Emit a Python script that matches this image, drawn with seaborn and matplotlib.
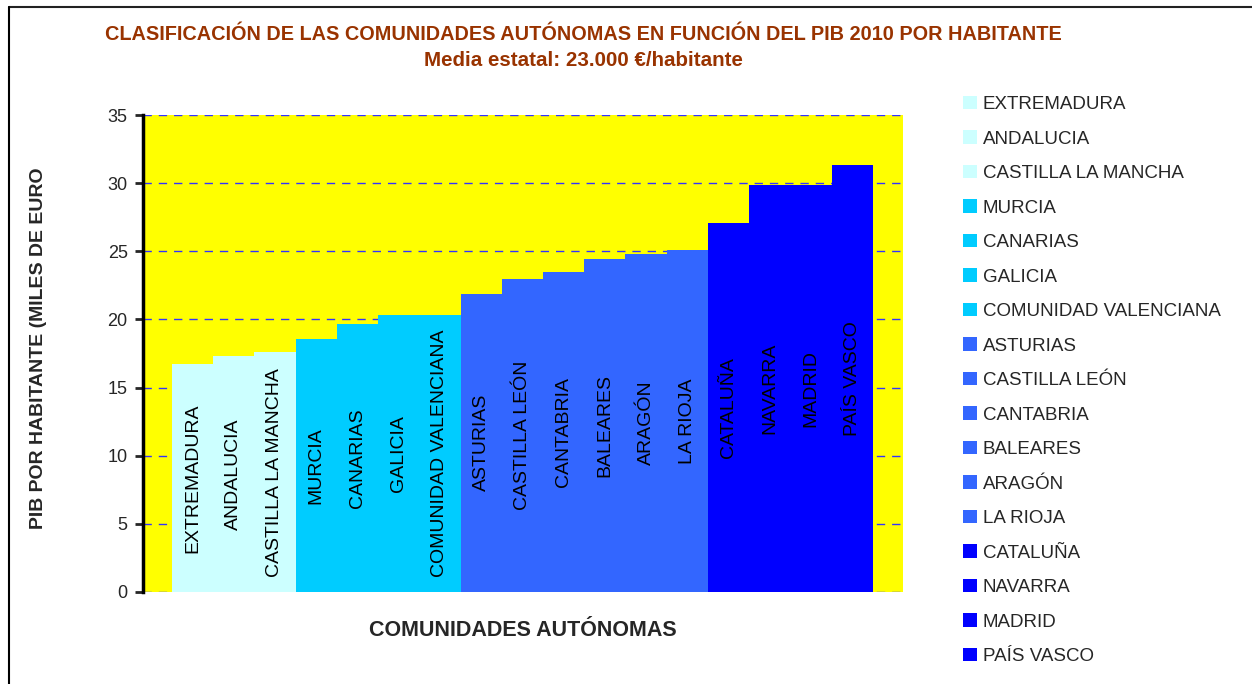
import matplotlib
matplotlib.use('Agg')
import matplotlib.pyplot as plt
import matplotlib.patches as mpatches
import matplotlib.lines as mlines
import pandas as pd
import seaborn as sns

# PIB 2010 por habitante (miles de euros), de menor a mayor
regions = ['EXTREMADURA', 'ANDALUCIA', 'CASTILLA LA MANCHA', 'MURCIA', 'CANARIAS',
           'GALICIA', 'COMUNIDAD VALENCIANA', 'ASTURIAS', 'CASTILLA LEÓN', 'CANTABRIA',
           'BALEARES', 'ARAGÓN', 'LA RIOJA', 'CATALUÑA', 'NAVARRA', 'MADRID', 'PAÍS VASCO']
pib = [16.75, 17.3, 17.6, 18.6, 19.7, 20.35, 20.35, 21.9, 23.0, 23.5,
       24.45, 24.8, 25.1, 27.1, 29.9, 29.9, 31.3]
tier = [0, 0, 0, 1, 1, 1, 1, 2, 2, 2, 2, 2, 2, 3, 3, 3, 3]
tier_colors = ['#CCFFFF', '#00CCFF', '#3366FF', '#0000FF']
yticks = [0, 5, 10, 15, 20, 25, 30, 35]

df = pd.DataFrame({'region': regions, 'pib': pib})
palette = {r: tier_colors[t] for r, t in zip(regions, tier)}

sns.set_style('white')
plt.rcParams['font.family'] = ['Liberation Sans', 'DejaVu Sans']

W, H = 1252, 684
fig = plt.figure(figsize=(W / 100, H / 100), dpi=100)
ax = fig.add_axes([143 / W, 1 - 592 / H, 760 / W, 477 / H])

ax.set_facecolor('#FFFF00')
ax.set_axisbelow(True)
ax.yaxis.grid(True, color='#3333FF', linestyle=(0, (6, 5)), linewidth=1)

sns.barplot(data=df, x='region', y='pib', hue='region', palette=palette, width=1,
            saturation=1, linewidth=0, legend=False, ax=ax)

# Etiquetas dentro de cada barra
for i, (name, v) in enumerate(zip(regions, pib)):
    ax.text(i, v / 2, name, rotation=90, ha='center', va='center', fontsize=14, color='black')

ax.set_ylim(0, 35)
ax.set_yticks(yticks)
ax.set_xlim(-1.2, 17.23)
ax.set_xticks([])
for side in ['top', 'right', 'bottom']:
    ax.spines[side].set_visible(False)
ax.spines['left'].set_linewidth(2.5)
ax.spines['left'].set_color('black')
ax.tick_params(axis='y', direction='out', length=6, width=2, labelsize=13, pad=5, left=True)

ax.set_xlabel('COMUNIDADES AUTÓNOMAS', fontsize=15.5, fontweight='bold')
ax.xaxis.set_label_coords(0.5, -0.058)
ax.set_ylabel('PIB POR HABITANTE (MILES DE EURO', fontsize=14, fontweight='bold')
ax.yaxis.set_label_coords(-0.126, 0.512)

fig.text(583 / W, 1 - 34 / H,
         'CLASIFICACIÓN DE LAS COMUNIDADES AUTÓNOMAS EN FUNCIÓN DEL PIB 2010 POR HABITANTE',
         ha='center', va='center', color='#993300', fontweight='bold', fontsize=14.3)
fig.text(583 / W, 1 - 61 / H, 'Media estatal: 23.000 €/habitante',
         ha='center', va='center', color='#993300', fontweight='bold', fontsize=14.8)

handles = [mpatches.Patch(facecolor=palette[r], edgecolor='none', label=r) for r in regions]
fig.legend(handles=handles, loc='upper left', bbox_to_anchor=(963 / W, 1 - 96 / H),
           frameon=False, fontsize=13.5, handlelength=0.72, handleheight=0.72,
           handletextpad=0.33, labelspacing=0.92, borderpad=0, borderaxespad=0)

# Marco exterior (solo arriba e izquierda visibles)
fig.add_artist(mlines.Line2D([9 / W, 1], [1 - 7 / H, 1 - 7 / H], transform=fig.transFigure,
                             color='#222222', linewidth=1.5))
fig.add_artist(mlines.Line2D([9 / W, 9 / W], [0, 1 - 7 / H], transform=fig.transFigure,
                             color='black', linewidth=1.5))

fig.savefig('out.png', dpi=100)
